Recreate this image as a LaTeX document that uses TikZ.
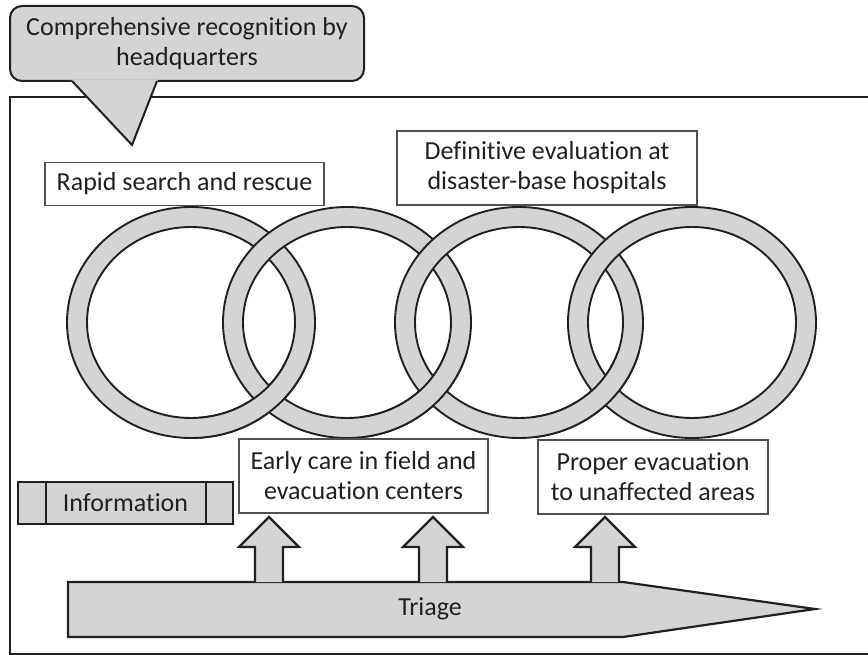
\documentclass[tikz,border=0pt]{standalone}
\usepackage{fontspec}
\setmainfont[Ligatures=NoCommon]{Carlito}
\definecolor{ink}{HTML}{231F20}
\definecolor{bandgray}{HTML}{D3D4D6}
\definecolor{boxedge}{HTML}{505050}
% one ring of the chain, centred at (#1, 322.5)
\newcommand{\ringat}[1]{%
  \fill[bandgray, even odd rule]
    (#1,322.5) ellipse [x radius=124pt, y radius=115.5pt]
    (#1,322.5) ellipse [x radius=104pt, y radius=95.5pt];
  \draw[ringline] (#1,322.5) ellipse [x radius=124pt, y radius=115.5pt];
  \draw[ringline] (#1,322.5) ellipse [x radius=104pt, y radius=95.5pt];}
\begin{document}
\begin{tikzpicture}[x=1pt, y=-1pt,
  ringline/.style={draw=ink, line width=1.9pt},
  frameline/.style={draw=ink, line width=2.2pt},
  blockshape/.style={draw=ink, fill=bandgray, line width=2.2pt},
  label/.style={text=ink, font=\fontsize{26}{30}\selectfont, align=center, inner sep=0pt},
  textbox/.style={label, draw=boxedge, fill=white, line width=1.1pt},
  headbox/.style={label, draw=ink, fill=bandgray, line width=2pt, rounded corners=12pt}
]
\useasboundingbox (0,0) rectangle (868,655);

% outer frame, open on the right
\draw[frameline] (868,97) -- (10,97) -- (10,654) -- (868,654);

% headquarters callout
\node[headbox, minimum width=354pt, minimum height=75pt] (hq) at (187,43.5)
  {Comprehensive recognition by\\headquarters};
\fill[bandgray] (71,79.6) -- (132,145) -- (158,79.6) -- cycle;
\draw[ink, line width=2pt, line join=miter] (72,81) -- (132,145) -- (157,81);

% chain of four interlocking rings
\ringat{191}
\ringat{347}
\ringat{519}
\ringat{692}
% lower crossings: the left ring passes over the right one
\begin{scope}
  \clip (199,352) rectangle (339,452);
  \ringat{191}
\end{scope}
\begin{scope}
  \clip (363,352) rectangle (503,452);
  \ringat{347}
\end{scope}
\begin{scope}
  \clip (535,352) rectangle (675,452);
  \ringat{519}
\end{scope}

% captions of the rings
\node[textbox, minimum width=279pt, minimum height=43pt] (rapid) at (184.5,184)
  {Rapid search and rescue};
\node[textbox, minimum width=300pt, minimum height=74pt] (definitive) at (547,168)
  {Definitive evaluation at\\disaster-base hospitals};
\node[textbox, minimum width=249pt, minimum height=74pt] (early) at (363.5,476)
  {Early care in field and\\evacuation centers};
\node[textbox, minimum width=230pt, minimum height=74pt] (proper) at (653,477)
  {Proper evacuation\\to unaffected areas};

% information bar
\node[label, blockshape, minimum width=215pt, minimum height=42pt] (info) at (125.5,503)
  {Information};
\draw[ink, line width=2.2pt] (46,482) -- (46,524) (206,482) -- (206,524);

% triage arrow
\draw[blockshape] (68,582) -- (623,582) -- (815,609) -- (623,637) -- (68,637) -- cycle;
\node[label] (triage) at (430,609) {Triage};

% block arrows rising from the triage bar
\foreach \cx in {269,433,605} {
  \draw[blockshape] (\cx-14,582) -- (\cx-14,547) -- (\cx-30,547) -- (\cx,517)
    -- (\cx+30,547) -- (\cx+14,547) -- (\cx+14,582);
}
\end{tikzpicture}
\end{document}
